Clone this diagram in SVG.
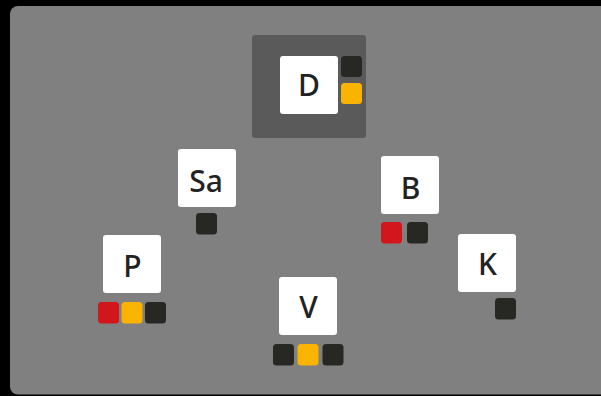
<svg xmlns="http://www.w3.org/2000/svg" width="601" height="396" viewBox="0 0 601 396">
<style>
.node{fill:#fff}
.lbl{font-family:"Noto Sans","Open Sans",sans-serif;font-size:30px;font-weight:500;fill:#222;text-anchor:middle}
.k{fill:#272723}
.y{fill:#f9b300}
.r{fill:#d1161c}
</style>
<rect width="601" height="396" fill="#000"/>
<rect x="10" y="6" width="600" height="388.5" rx="8" fill="#808080"/>
<g id="connectors"></g>
<g id="node-D">
<rect x="252" y="35" width="114" height="103" rx="3" fill="#5a5a5a"/>
<rect class="node" x="280" y="56" width="58" height="58" rx="3"/>
<text class="lbl" x="309" y="96">D</text>
<rect class="k" x="341" y="56" width="21" height="21" rx="3.5"/>
<rect class="y" x="341" y="83" width="21" height="21" rx="3.5"/>
</g>
<g id="node-Sa">
<rect class="node" x="178" y="149" width="58" height="58" rx="3"/>
<text class="lbl" x="206" y="192">Sa</text>
<rect class="k" x="196" y="213" width="21" height="21.5" rx="3.5"/>
</g>
<g id="node-B">
<rect class="node" x="381" y="156" width="58" height="58" rx="3"/>
<text class="lbl" x="410.5" y="199">B</text>
<rect class="r" x="381" y="222" width="21" height="21.5" rx="3.5"/>
<rect class="k" x="407" y="222" width="21" height="21.5" rx="3.5"/>
</g>
<g id="node-P">
<rect class="node" x="103" y="235" width="58" height="58" rx="3"/>
<text class="lbl" x="132.5" y="277">P</text>
<rect class="r" x="98" y="302" width="21" height="21.5" rx="3.5"/>
<rect class="y" x="121.5" y="302" width="21" height="21.5" rx="3.5"/>
<rect class="k" x="145" y="302" width="21" height="21.5" rx="3.5"/>
</g>
<g id="node-K">
<rect class="node" x="458" y="234" width="58" height="58" rx="3"/>
<text class="lbl" x="487.5" y="275">K</text>
<rect class="k" x="495" y="298" width="21" height="21.5" rx="3.5"/>
</g>
<g id="node-V">
<rect class="node" x="279" y="277" width="58" height="58" rx="3"/>
<text class="lbl" x="308.5" y="318">V</text>
<rect class="k" x="273" y="344" width="21" height="21.5" rx="3.5"/>
<rect class="y" x="297.5" y="344" width="21" height="21.5" rx="3.5"/>
<rect class="k" x="322.5" y="344" width="21" height="21.5" rx="3.5"/>
</g>
</svg>
